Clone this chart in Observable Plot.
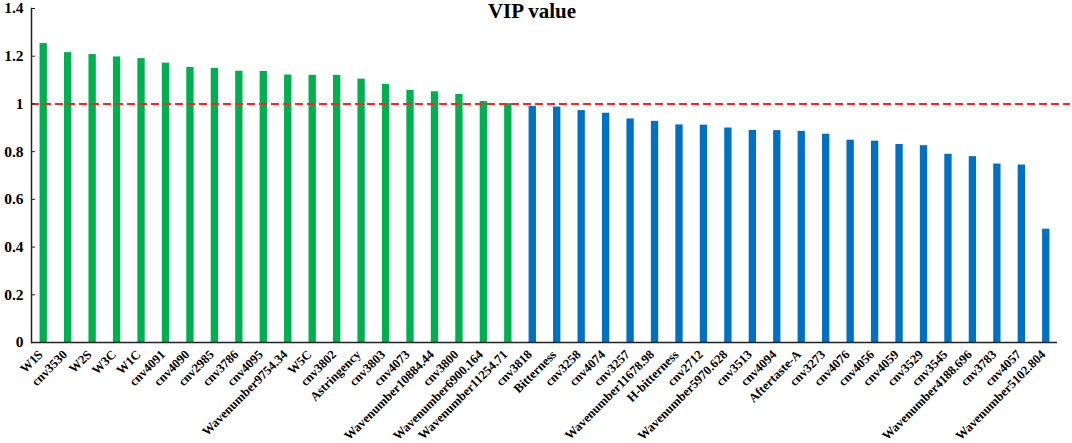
<!DOCTYPE html>
<html>
<head>
<meta charset="utf-8">
<script src="https://cdn.jsdelivr.net/npm/d3@7"></script>
<script src="https://cdn.jsdelivr.net/npm/@observablehq/plot@0.6"></script>
<style>
  html, body { margin: 0; padding: 0; background: #fff; }
  #chart svg { display: block; overflow: visible; }
</style>
</head>
<body>
<div id="chart"></div>
<script>
const categories = [
  "W1S", "cnv3530", "W2S", "W3C", "W1C", "cnv4091", "cnv4090", "cnv2985", "cnv3786", "cnv4095",
  "Wavenumber9754.34", "W5C", "cnv3802", "Astringency", "cnv3803", "cnv4073", "Wavenumber10884.44",
  "cnv3800", "Wavenumber6900.164", "Wavenumber11254.71", "cnv3818", "Bitterness", "cnv3258", "cnv4074",
  "cnv3257", "Wavenumber11678.98", "H-bitterness", "cnv2712", "Wavenumber5970.628", "cnv3513", "cnv4094",
  "Aftertaste-A", "cnv3273", "cnv4076", "cnv4056", "cnv4059", "cnv3529", "cnv3545", "Wavenumber4188.696",
  "cnv3783", "cnv4057", "Wavenumber5102.804"
];
const vipValues = [
  1.253, 1.215, 1.207, 1.197, 1.190, 1.171, 1.153, 1.149, 1.137, 1.136,
  1.121, 1.120, 1.120, 1.104, 1.082, 1.057, 1.051,
  1.040, 1.010, 1.001, 0.990, 0.987, 0.972, 0.961,
  0.937, 0.927, 0.912, 0.911, 0.899, 0.889, 0.888,
  0.885, 0.873, 0.848, 0.844, 0.830, 0.825, 0.789, 0.779,
  0.748, 0.744, 0.475
];
const yTicks = [0, 0.2, 0.4, 0.6, 0.8, 1, 1.2, 1.4];
const threshold = [1];
const title = ["VIP value"];

const data = categories.map((c, i) => ({name: c, vip: vipValues[i]}));
const green = "#00b050", blue = "#0070c0";

const chart = Plot.plot({
  width: 1072,
  height: 443,
  marginLeft: 31,
  marginRight: 2,
  marginTop: 8,
  marginBottom: 101,
  style: {fontFamily: "'Liberation Serif', 'Times New Roman', serif", fontWeight: "bold", color: "#000", background: "#fff"},
  x: {domain: categories, range: [31, 1058], round: false, paddingInner: 0.7, paddingOuter: 0.35, label: null},
  y: {domain: [0, 1.4], ticks: yTicks, label: null},
  marks: [
    Plot.barY(data, {x: "name", y: "vip", fill: d => d.vip >= 1 ? green : blue}),
    Plot.ruleY(threshold, {stroke: "#f22", strokeWidth: 2, strokeDasharray: "8,4"}),
    Plot.ruleY([0], {stroke: "#222", strokeWidth: 1.5, insetRight: 13}),
    Plot.frame({anchor: "left", stroke: "#222", strokeWidth: 1.5}),
    Plot.axisY({ticks: yTicks, tickFormat: d => String(d), tickSize: -4, tickPadding: 12, fontSize: 15.5, fontWeight: "bold", stroke: "#222"}),
    Plot.axisX({tickSize: 0, tickRotate: -45, tickPadding: 10, dx: -3, fontSize: 12.7, fontWeight: "bold"}),
    Plot.text(title, {frameAnchor: "top", dx: -19, dy: 3, fontSize: 21, fontWeight: "bold", lineAnchor: "middle", fill: "#000"})
  ]
});
document.getElementById("chart").appendChild(chart);
</script>
</body>
</html>
